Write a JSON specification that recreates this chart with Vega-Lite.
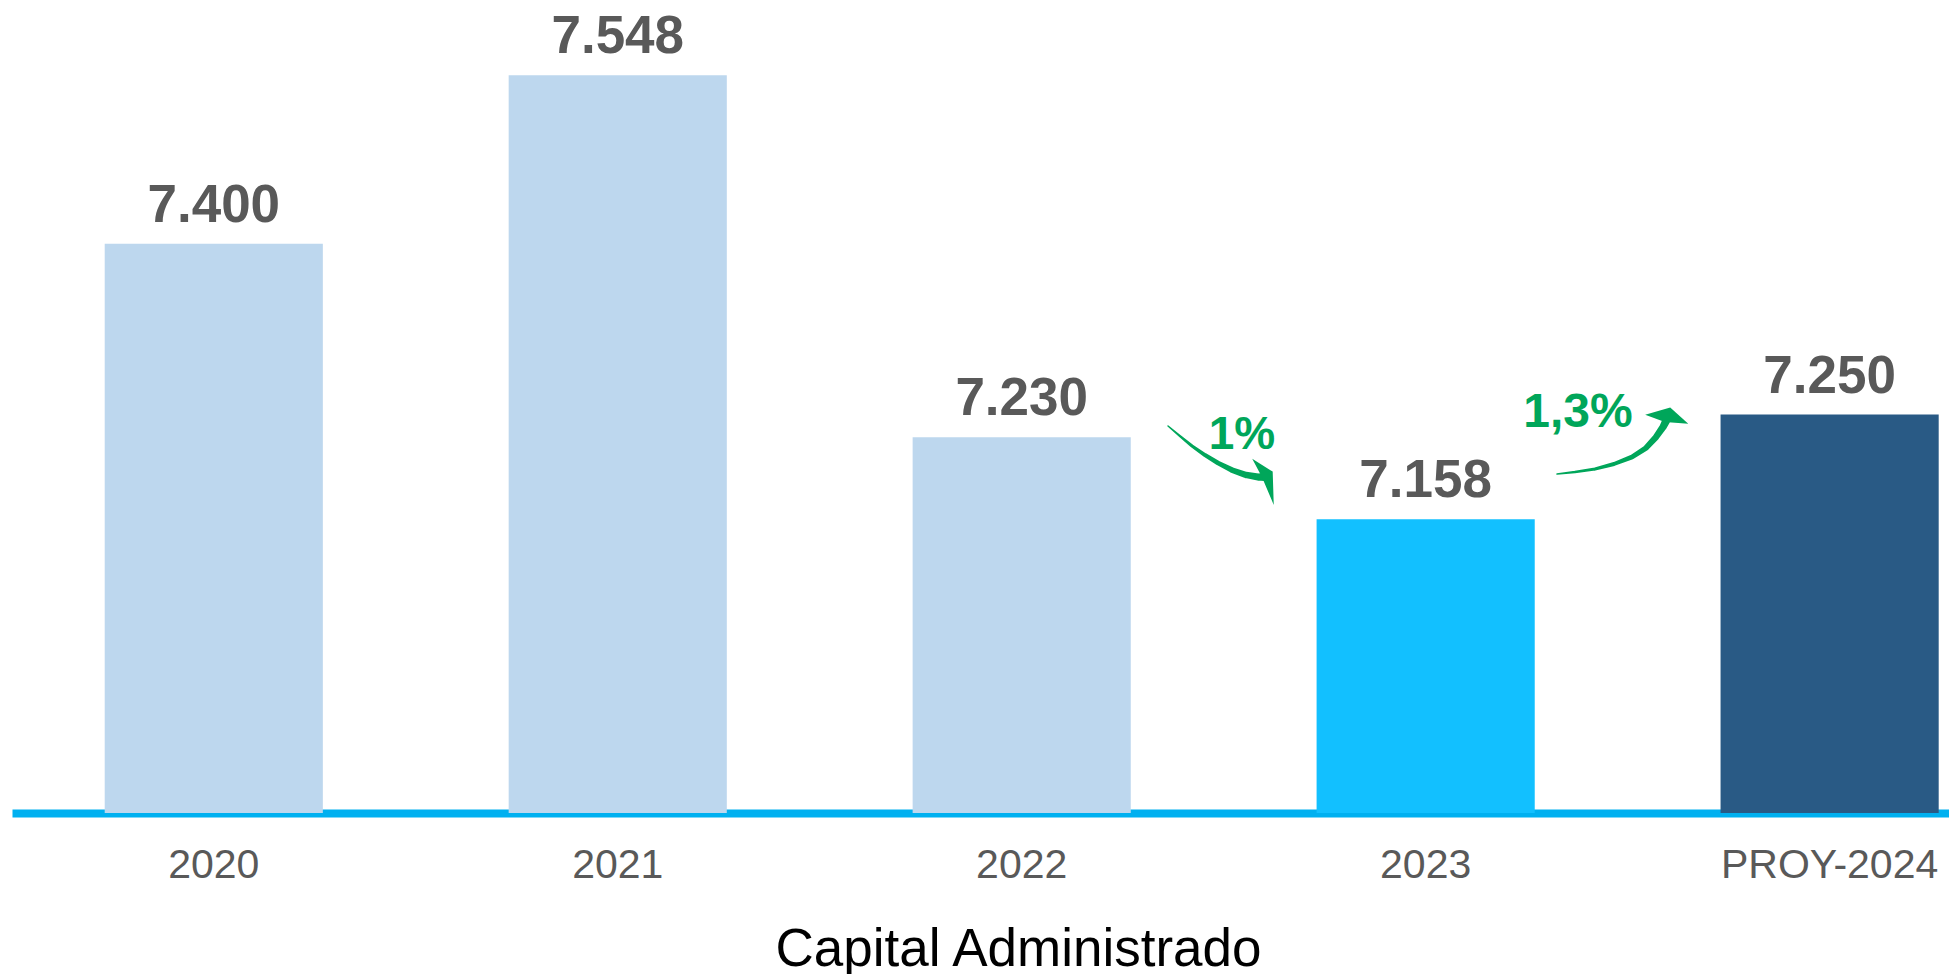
{
  "$schema": "https://vega.github.io/schema/vega-lite/v6.json",
  "width": 1937,
  "height": 797,
  "autosize": {"type": "none"},
  "padding": {"left": 12, "top": 16, "right": 0, "bottom": 161},
  "background": "white",
  "config": {"view": {"stroke": null}, "font": "Liberation Sans"},
  "datasets": {
    "bars": [
      {"year": "2020", "value": 7400, "label": "7.400", "tipo": "real"},
      {"year": "2021", "value": 7548, "label": "7.548", "tipo": "real"},
      {"year": "2022", "value": 7230, "label": "7.230", "tipo": "real"},
      {"year": "2023", "value": 7158, "label": "7.158", "tipo": "actual"},
      {"year": "PROY-2024", "value": 7250, "label": "7.250", "tipo": "proyeccion"}
    ],
    "arrows": [
      {"arrow": "a", "t": 0, "i": 2.3624, "v": 7239.9},
      {"arrow": "a", "t": 0.125, "i": 2.3921, "v": 7231.1},
      {"arrow": "a", "t": 0.25, "i": 2.4218, "v": 7222.3},
      {"arrow": "a", "t": 0.375, "i": 2.4539, "v": 7214.4},
      {"arrow": "a", "t": 0.5, "i": 2.4861, "v": 7207.4},
      {"arrow": "a", "t": 0.625, "i": 2.5208, "v": 7201.2},
      {"arrow": "a", "t": 0.75, "i": 2.5554, "v": 7196.9},
      {"arrow": "a", "t": 0.875, "i": 2.5851, "v": 7195.1},
      {"arrow": "a", "t": 1, "i": 2.6, "v": 7195.1},
      {"arrow": "b", "t": 0, "i": 3.3254, "v": 7197.7},
      {"arrow": "b", "t": 0.125, "i": 3.3699, "v": 7199.5},
      {"arrow": "b", "t": 0.25, "i": 3.4194, "v": 7202.1},
      {"arrow": "b", "t": 0.375, "i": 3.4664, "v": 7206.5},
      {"arrow": "b", "t": 0.5, "i": 3.511, "v": 7212.7},
      {"arrow": "b", "t": 0.625, "i": 3.5457, "v": 7220.6},
      {"arrow": "b", "t": 0.75, "i": 3.5704, "v": 7230.2},
      {"arrow": "b", "t": 0.875, "i": 3.5877, "v": 7239.0},
      {"arrow": "b", "t": 1, "i": 3.5952, "v": 7244.3}
    ],
    "head1": [{"i": 2.5975, "v": 7194.2}],
    "head2": [{"i": 3.5976, "v": 7246.0}],
    "notes": [
      {"note": "1%", "i": 2.5456, "v": 7219.7},
      {"note": "1,3%", "i": 3.3773, "v": 7239.0}
    ]
  },
  "layer": [
    {
      "data": {"name": "bars"},
      "layer": [
        {
          "mark": {"type": "bar"},
          "encoding": {
            "x": {
              "field": "year",
              "type": "nominal",
              "sort": null,
              "scale": {"paddingInner": 0.46, "paddingOuter": 0.1275, "align": 0.9},
              "axis": {
                "title": "Capital Administrado",
                "titleFontSize": 53,
                "titleFontWeight": "normal",
                "titleColor": "#000000",
                "titleFont": "Liberation Sans",
                "titleX": 1006,
                "titleY": 152,
                "titleBaseline": "alphabetic",
                "titleAlign": "center",
                "labelFontSize": 41,
                "labelColor": "#595959",
                "labelFont": "Liberation Sans",
                "labelAngle": 0,
                "labelBaseline": "alphabetic",
                "labelPadding": 64,
                "labelLimit": 0,
                "labelOverlap": false,
                "ticks": false,
                "grid": false,
                "domainColor": "#00B0F0",
                "domainWidth": 8,
                "domainCap": "butt"
              }
            },
            "y": {
              "field": "value",
              "type": "quantitative",
              "scale": {"domain": [6900, 7600], "nice": false, "zero": false},
              "axis": null
            },
            "y2": {"datum": 6900},
            "color": {
              "field": "tipo",
              "type": "nominal",
              "scale": {"domain": ["real", "actual", "proyeccion"], "range": ["#BDD7EE", "#12C0FF", "#295A85"]},
              "legend": null
            }
          }
        },
        {
          "mark": {"type": "text", "fontSize": 53, "fontWeight": "bold", "color": "#595959", "baseline": "alphabetic", "align": "center", "dy": -22, "font": "Liberation Sans"},
          "encoding": {
            "x": {"field": "year", "type": "nominal", "sort": null},
            "y": {"field": "value", "type": "quantitative", "scale": {"domain": [6900, 7600], "nice": false, "zero": false}},
            "text": {"field": "label"}
          }
        }
      ]
    },
    {
      "layer": [
        {
          "data": {"name": "arrows"},
          "mark": {"type": "trail", "color": "#00A65A"},
          "encoding": {
            "x": {"field": "i", "type": "quantitative", "scale": {"domain": [-0.4993, 4.2957], "nice": false, "zero": false}, "axis": null},
            "y": {"field": "v", "type": "quantitative", "scale": {"domain": [6900, 7600], "nice": false, "zero": false}, "axis": null},
            "size": {"field": "t", "type": "quantitative", "scale": {"domain": [0, 1], "range": [1.5, 8]}, "legend": null},
            "detail": {"field": "arrow"},
            "order": {"field": "t"}
          }
        },
        {
          "data": {"name": "head1"},
          "mark": {"type": "point", "filled": true, "color": "#00A65A", "opacity": 1, "size": 2900, "shape": "M -0.4 -0.72 L 0.36 -0.24 L 0.4 1 L -0.04 -0.04 Z"},
          "encoding": {
            "x": {"field": "i", "type": "quantitative"},
            "y": {"field": "v", "type": "quantitative"}
          }
        },
        {
          "data": {"name": "head2"},
          "mark": {"type": "point", "filled": true, "color": "#00A65A", "opacity": 1, "size": 2900, "shape": "M -0.81 -0.16 L 0.12 -0.43 L 0.79 0.17 L -0.08 0.11 Z"},
          "encoding": {
            "x": {"field": "i", "type": "quantitative"},
            "y": {"field": "v", "type": "quantitative"}
          }
        },
        {
          "data": {"name": "notes"},
          "mark": {"type": "text", "fontWeight": "bold", "color": "#00A65A", "baseline": "alphabetic", "align": "center", "font": "Liberation Sans"},
          "encoding": {
            "x": {"field": "i", "type": "quantitative"},
            "y": {"field": "v", "type": "quantitative"},
            "text": {"field": "note"},
            "size": {"field": "note", "type": "nominal", "scale": {"domain": ["1%", "1,3%"], "range": [46, 48]}, "legend": null}
          }
        }
      ]
    }
  ],
  "resolve": {"scale": {"x": "independent"}}
}
